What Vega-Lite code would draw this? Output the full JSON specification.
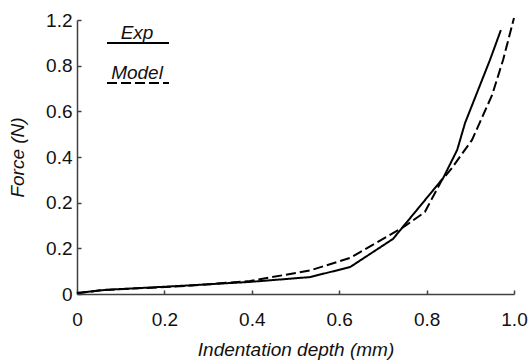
{
  "$schema": "https://vega.github.io/schema/vega-lite/v6.json",
  "width": 437,
  "height": 274,
  "autosize": {"type": "none"},
  "padding": {"left": 77, "top": 20, "right": 14, "bottom": 67},
  "background": "white",
  "config": {"view": {"stroke": null}, "font": "Liberation Sans"},
  "data": {
    "values": [
      {"series": "Exp", "depth": 0, "force": 0.004},
      {"series": "Exp", "depth": 0.064, "force": 0.018},
      {"series": "Exp", "depth": 0.213, "force": 0.033},
      {"series": "Exp", "depth": 0.396, "force": 0.053},
      {"series": "Exp", "depth": 0.533, "force": 0.074},
      {"series": "Exp", "depth": 0.625, "force": 0.118},
      {"series": "Exp", "depth": 0.723, "force": 0.241},
      {"series": "Exp", "depth": 0.838, "force": 0.508},
      {"series": "Exp", "depth": 0.87, "force": 0.631},
      {"series": "Exp", "depth": 0.888, "force": 0.749},
      {"series": "Exp", "depth": 0.945, "force": 1.025},
      {"series": "Exp", "depth": 0.97, "force": 1.156},
      {"series": "Model", "depth": 0, "force": 0.004},
      {"series": "Model", "depth": 0.064, "force": 0.018},
      {"series": "Model", "depth": 0.25, "force": 0.035},
      {"series": "Model", "depth": 0.396, "force": 0.057},
      {"series": "Model", "depth": 0.533, "force": 0.103},
      {"series": "Model", "depth": 0.625, "force": 0.158},
      {"series": "Model", "depth": 0.751, "force": 0.298},
      {"series": "Model", "depth": 0.796, "force": 0.359},
      {"series": "Model", "depth": 0.835, "force": 0.499},
      {"series": "Model", "depth": 0.858, "force": 0.552},
      {"series": "Model", "depth": 0.904, "force": 0.675},
      {"series": "Model", "depth": 0.95, "force": 0.872},
      {"series": "Model", "depth": 0.975, "force": 1.025},
      {"series": "Model", "depth": 1.0, "force": 1.209}
    ]
  },
  "mark": {"type": "line", "color": "black", "strokeWidth": 2, "clip": false},
  "encoding": {
    "x": {
      "field": "depth",
      "type": "quantitative",
      "scale": {"domain": [0, 1], "nice": false, "zero": false},
      "axis": {
        "title": "Indentation depth (mm)",
        "values": [0, 0.2, 0.4, 0.6, 0.8, 1.0],
        "labelExpr": "datum.value == 0 ? '0' : format(datum.value, '.1f')",
        "grid": false,
        "tickSize": -4,
        "tickWidth": 1.5,
        "domainWidth": 1.5,
        "domainColor": "#404040",
        "tickColor": "#404040",
        "labelFontSize": 19,
        "labelColor": "#111111",
        "labelPadding": 20,
        "labelFlush": false,
        "labelOverlap": false,
        "titleFontSize": 19,
        "titleFontStyle": "italic",
        "titleFontWeight": "normal",
        "titleColor": "#111111",
        "titlePadding": 11
      }
    },
    "y": {
      "field": "force",
      "type": "quantitative",
      "scale": {"domain": [0, 1.2], "nice": false, "zero": false},
      "axis": {
        "title": "Force (N)",
        "values": [0, 0.2, 0.4, 0.6, 0.8, 1.0, 1.2],
        "labelExpr": "datum.value == 0 ? '0' : datum.value > 1.19 ? '1.2' : datum.value < 0.21 ? '0.2' : format(datum.value - 0.2, '.1f')",
        "grid": false,
        "tickSize": -4,
        "tickWidth": 1.5,
        "domainWidth": 1.5,
        "domainColor": "#404040",
        "tickColor": "#404040",
        "labelFontSize": 19,
        "labelColor": "#111111",
        "labelPadding": 9,
        "labelFlush": false,
        "labelOverlap": false,
        "titleFontSize": 19,
        "titleFontStyle": "italic",
        "titleFontWeight": "normal",
        "titleColor": "#111111",
        "titlePadding": 18
      }
    },
    "strokeDash": {
      "field": "series",
      "type": "nominal",
      "scale": {"domain": ["Exp", "Model"], "range": [[1, 0], [10, 4]]},
      "legend": {
        "title": null,
        "orient": "none",
        "legendX": 29,
        "legendY": -9,
        "padding": 0,
        "symbolType": "M-1,0H1",
        "symbolSize": 3844,
        "symbolStrokeWidth": 2,
        "symbolStrokeColor": "black",
        "symbolFillColor": "transparent",
        "labelFontSize": 19,
        "labelFontStyle": "italic",
        "labelColor": "#111111",
        "labelAlign": "center",
        "labelBaseline": "bottom",
        "labelOffset": -33,
        "rowPadding": 4
      }
    }
  }
}
